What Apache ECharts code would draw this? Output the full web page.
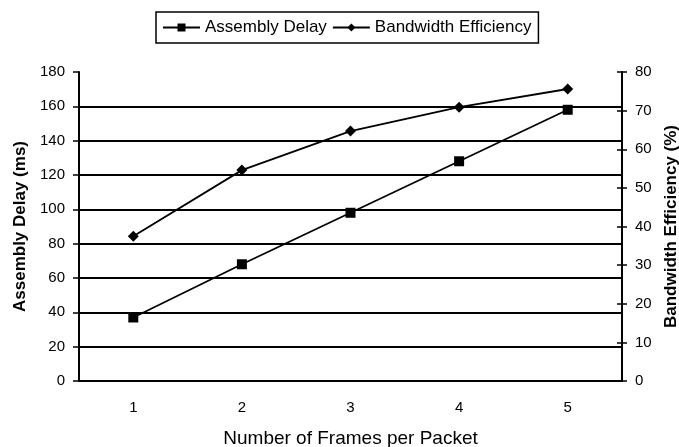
<!DOCTYPE html>
<html>
<head>
<meta charset="utf-8">
<script src="https://cdn.jsdelivr.net/npm/echarts@6/dist/echarts.min.js"></script>
<style>
  html, body { margin: 0; padding: 0; background: #fff; }
  #chart { width: 679px; height: 447px; }
</style>
</head>
<body>
<div id="chart"></div>
<script>
// 数据
const frames = ['1', '2', '3', '4', '5'];
const assemblyDelay = [37, 68, 98, 128, 158];
const bandwidthEff = [37.5, 54.6, 64.7, 70.9, 75.6];

const font = 'Liberation Sans, Arial, sans-serif';

const chart = echarts.init(document.getElementById('chart'));
chart.setOption({
  backgroundColor: '#fff',
  animation: false,
  textStyle: { fontFamily: font, color: '#000' },
  legend: {
    top: 12,
    left: 156,
    padding: [7, 7, 7, 6],
    itemGap: 5,
    itemWidth: 37,
    itemHeight: 10,
    borderColor: '#000',
    borderWidth: 1.5,
    borderRadius: 0,
    textStyle: { fontSize: 17, color: '#000', fontFamily: font },
    data: ['Assembly Delay', 'Bandwidth Efficiency'],
  },
  grid: { left: 79, right: 57, top: 72, bottom: 66, containLabel: false, outerBoundsMode: 'none' },
  xAxis: {
    type: 'category',
    data: frames,
    boundaryGap: true,
    name: 'Number of Frames per Packet',
    nameLocation: 'middle',
    nameGap: 48,
    nameTextStyle: { fontSize: 19, color: '#000' },
    axisLine: { lineStyle: { color: '#000', width: 2 } },
    axisTick: { inside: true, length: 5, lineStyle: { color: '#000', width: 1.5 } },
    axisLabel: { fontSize: 15, color: '#000', margin: 19 },
  },
  yAxis: [
    {
      type: 'value',
      min: 0, max: 180, interval: 20,
      name: 'Assembly Delay (ms)',
      nameLocation: 'middle',
      nameGap: 50,
      nameTextStyle: { fontSize: 17, fontWeight: 'bold', color: '#000' },
      axisLine: { show: true, lineStyle: { color: '#000', width: 2 } },
      axisTick: { show: true, length: 6, lineStyle: { color: '#000', width: 1.5 } },
      axisLabel: { fontSize: 15, color: '#000', margin: 14 },
      splitLine: { show: true, showMaxLine: false, lineStyle: { color: '#000', width: 2 } },
    },
    {
      type: 'value',
      min: 0, max: 80, interval: 10,
      position: 'right',
      name: 'Bandwidth Efficiency (%)',
      nameLocation: 'middle',
      nameGap: 41,
      nameRotate: 90,
      nameTextStyle: { fontSize: 17, fontWeight: 'bold', color: '#000' },
      axisLine: { show: true, lineStyle: { color: '#000', width: 2 } },
      axisTick: { show: true, length: 5, lineStyle: { color: '#000', width: 1.5 } },
      axisLabel: { fontSize: 15, color: '#000', margin: 13 },
      splitLine: { show: false },
    },
    {
      // 右轴内侧刻度
      type: 'value',
      min: 0, max: 80, interval: 10,
      position: 'right',
      axisLine: { show: false },
      axisTick: { show: true, inside: true, length: 5, lineStyle: { color: '#000', width: 1.5 } },
      axisLabel: { show: false },
      splitLine: { show: false },
    },
  ],
  series: [
    {
      name: 'Assembly Delay',
      type: 'line',
      data: assemblyDelay,
      yAxisIndex: 0,
      symbol: 'rect',
      symbolSize: 10,
      itemStyle: { color: '#000' },
      lineStyle: { color: '#000', width: 1.8 },
    },
    {
      name: 'Bandwidth Efficiency',
      type: 'line',
      data: bandwidthEff,
      yAxisIndex: 1,
      symbol: 'diamond',
      symbolSize: 11,
      itemStyle: { color: '#000' },
      lineStyle: { color: '#000', width: 1.8 },
    },
  ],
});
</script>
</body>
</html>
